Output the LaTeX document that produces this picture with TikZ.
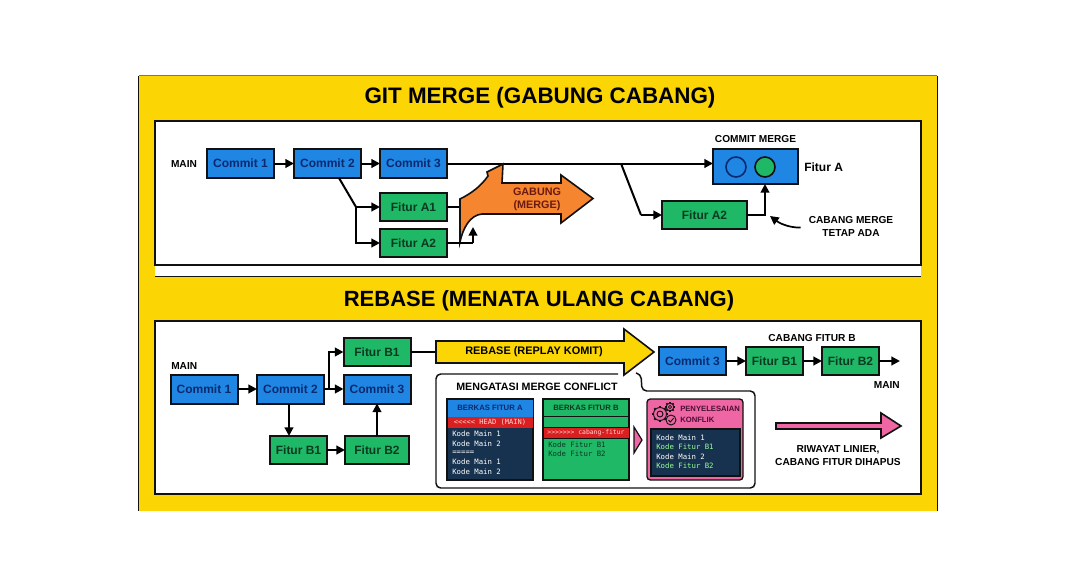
\documentclass[tikz,border=0pt]{standalone}
\usepackage{fontspec}
\setmainfont{Liberation Sans}
\newfontfamily\codefont{DejaVu Sans Mono}
\usetikzlibrary{arrows.meta,calc}
\definecolor{panelyellow}{HTML}{FBD504}
\definecolor{bblue}{HTML}{1F86E3}
\definecolor{bgreen}{HTML}{1FB866}
\definecolor{borange}{HTML}{F5852E}
\definecolor{bpink}{HTML}{EE66A3}
\definecolor{bnavy}{HTML}{17324F}
\definecolor{bred}{HTML}{D91F1F}
\definecolor{inkblue}{HTML}{0A2A70}
\definecolor{inkgreen}{HTML}{0A3A20}
\definecolor{inkline}{HTML}{111111}
\definecolor{inkbrown}{HTML}{6B1A10}
\definecolor{inkplum}{HTML}{4A0F35}
\newcommand{\fs}[1]{\fontsize{#1}{#1}\selectfont}
\tikzset{
  x=0.75pt,y=-0.75pt,
  wh/.style 2 args={minimum width=#1*0.75pt,minimum height=#2*0.75pt,inner sep=0pt,outer sep=0pt},
  commit/.style={draw=inkline,line width=1.5pt,fill=bblue,text=inkblue,font=\bfseries\fs{9}},
  fitur/.style={draw=inkline,line width=1.5pt,fill=bgreen,text=inkgreen,font=\bfseries\fs{9}},
  conn/.style={draw=black,line width=1.5pt,-{Triangle[length=6.5pt,width=6.5pt]}},
  plain/.style={draw=black,line width=1.5pt},
  lbl/.style={inner sep=0pt,font=\bfseries\fs{7.6},text=black,align=center},
  code/.style={inner sep=0pt,anchor=west,font=\codefont\fs{5.5}},
  hdr/.style={inner sep=0pt,font=\bfseries\fs{5.8}},
  fat/.style={draw=inkline,line width=1.2pt,line join=miter},
  rim/.style={draw=inkline,line width=0.85pt},
}
\begin{document}
\begin{tikzpicture}
\useasboundingbox (0,0) rectangle (1076,586);
\fill[white] (0,0) rectangle (1076,586);
% yellow board
\fill[panelyellow] (139,76) rectangle (937,511);
\draw[rim] (138.7,511) -- (138.7,76) (937.3,76) -- (937.3,511);
\draw[draw=inkline!45!panelyellow,line width=0.5pt] (138.7,75.7) -- (937.3,75.7);
\node[inner sep=0pt,font=\bfseries\fs{16.8}] (t1) at (540,98) {GIT MERGE (GABUNG CABANG)};
\node[inner sep=0pt,font=\bfseries\fs{16.5}] (t2) at (539,301) {REBASE (MENATA ULANG CABANG)};
\fill[white] (155,266) rectangle (921,276);
\draw[rim] (155,276.5) -- (921,276.5);
\node[rim,fill=white,wh={766}{144}] (p1) at (538,193) {};
\node[rim,fill=white,wh={766}{173}] (p2) at (538,407.5) {};

% ---- merge panel
\node[lbl] (mainA) at (184,164) {MAIN};
\node[commit,wh={67}{29}] (c1) at (240.5,163.5) {Commit 1};
\node[commit,wh={67}{29}] (c2) at (327.5,163.5) {Commit 2};
\node[commit,wh={67}{29}] (c3) at (413.5,163.5) {Commit 3};
\node[fitur,wh={67}{28}] (a1) at (413.5,207) {Fitur A1};
\node[fitur,wh={67}{28}] (a2) at (413.5,243) {Fitur A2};
\draw[conn] (c1) -- (c2);
\draw[conn] (c2) -- (c3);
\coordinate (b0) at (339,178);
\coordinate (b1) at (356,207);
\draw[plain,line join=round] (b0) -- (b1);
\draw[conn] (b1) -- (a1);
\draw[conn] (b1) |- (a2);
% main line behind the orange arrow
\draw[conn] (c3) -- (713,163.5);
% orange arrow
\coordinate (mg) at (460,207);
\coordinate (mh) at (473,243);
\coordinate (mi) at (473,227);
\draw[plain] (a1) -- (mg);
\draw[fat,fill=borange] (460,242) -- (460,199) .. controls (472,193) and (481,186) .. (488,176)
  -- (487,172) -- (503,164) -- (502,183) -- (561,183) -- (561,175) -- (593,198.5) -- (561,223) -- (561,214)
  -- (482,214) .. controls (470,215) and (463,228) .. cycle;
\draw[plain] (a2) -| (mh);
\draw[conn] (mh) -- (mi);
\node[lbl,text=inkbrown,font=\bfseries\fs{8.1}] (gab) at (537,199.5) {GABUNG\\[1.6pt](MERGE)};
% merge result
\node[draw=inkline,line width=1.5pt,fill=bblue,wh={85}{35}] (cm) at (755.5,166.5) {};
\node[draw=inkblue,line width=1.2pt,fill=bblue,circle,minimum size=15pt,inner sep=0pt] (o1) at (736,167) {};
\node[draw=inkline,line width=1.2pt,fill=bgreen,circle,minimum size=15pt,inner sep=0pt] (o2) at (765,167) {};
\node[lbl] (cmt) at (755.5,139) {COMMIT MERGE};
\node[lbl,anchor=west,font=\bfseries\fs{9}] (fa) at (804,167) {Fitur A};
\node[fitur,wh={85}{28}] (a3) at (704.5,215) {Fitur A2};
\coordinate (m0) at (621,163.5);
\coordinate (m1) at (641,215);
\draw[plain,line join=round] (m0) -- (m1);
\draw[conn] (m1) -- (a3);
\draw[conn] (a3.east) -| (o2 |- cm.south);
\node[lbl] (cb) at (851,226.5) {CABANG MERGE\\[2pt]TETAP ADA};
\coordinate (cbe) at (770,216);
\draw[conn,line width=1.3pt] (cb.west) ++(-8,1) .. controls (793,228) and (782,225) .. (cbe);

% ---- rebase panel
\node[lbl,anchor=west] (mainB) at (171,366) {MAIN};
\node[commit,wh={67}{29}] (d1) at (204,389) {Commit 1};
\node[commit,wh={67}{29}] (d2) at (290.5,389) {Commit 2};
\node[commit,wh={67}{29}] (d3) at (377,389) {Commit 3};
\node[fitur,wh={67}{28}] (e1) at (377,352) {Fitur B1};
\node[fitur,wh={57}{28}] (e2) at (298.5,450) {Fitur B1};
\node[fitur,wh={64}{28}] (e3) at (377,450) {Fitur B2};
\draw[conn] (d1) -- (d2);
\draw[conn] (d2) -- (d3);
\coordinate (j0) at (329,389);
\draw[conn] (j0) |- (e1);
\draw[conn] (d2.south -| 289,0) -- (e2.north -| 289,0);
\draw[conn] (e2) -- (e3);
\draw[conn] (e3) -- (d3);

% conflict box
\fill[white] (436,374) -- (640,374) -- (642,391) -- (755,391) -- (755,488) -- (436,488) -- cycle;
\draw[draw=inkline,line width=1.1pt,rounded corners=3.5pt] (636,373) -- (641,374) -- (642,391) -- (755,391) -- (755,488) -- (436,488) -- (436,374) -- (618,374);
\node[lbl,font=\bfseries\fs{8}] (mc) at (537,387) {MENGATASI MERGE CONFLICT};
% file A
\node[draw=inkline,line width=1pt,fill=bnavy,wh={86}{81}] (fA) at (490,439.5) {};
\node[fill=bblue,wh={85}{17},text=inkblue,hdr] (fAh) at (490,408) {BERKAS FITUR A};
\node[fill=bred,wh={85}{11.5},text=white!85!red,font=\codefont\fs{5.3}] (fAr) at (490,422.5) {<<<<< HEAD (MAIN)};
\node[code,text=white] (a1t) at (452,434) {Kode Main 1};
\node[code,text=white] (a2t) at (452,444) {Kode Main 2};
\node[code,text=white] (a3t) at (452,453) {=====};
\node[code,text=white] (a4t) at (452,462) {Kode Main 1};
\node[code,text=white] (a5t) at (452,472) {Kode Main 2};
% file B
\node[draw=inkline,line width=1pt,fill=bgreen,wh={86}{81}] (fB) at (586,439.5) {};
\node[hdr,text=inkgreen] (fBh) at (586,408) {BERKAS FITUR B};
\draw[inkline,line width=.7pt] (fB.west |- 0,416.5) -- (fB.east |- 0,416.5);
\node[fill=bred,wh={85}{11},text=white!85!red,font=\codefont\fs{4.8}] (fBr) at (586,432.5) {>>>>>>> cabang-fitur};
\draw[inkline,line width=.7pt] (fB.west |- 0,427) -- (fB.east |- 0,427);
\draw[inkline,line width=.7pt] (fB.west |- 0,438) -- (fB.east |- 0,438);
\node[code,text=inkgreen] (b1t) at (548,445) {Kode Fitur B1};
\node[code,text=inkgreen] (b2t) at (548,454) {Kode Fitur B2};
% small pink triangle
\draw[fat,line width=.9pt,fill=bpink] (634,427) -- (642,440) -- (634,453) -- cycle;
% resolution
\node[draw=inkline,line width=1pt,fill=bpink,rounded corners=2.5pt,wh={96}{81}] (fR) at (695,439.5) {};
\begin{scope}[shift={(660,414)},draw=inkline]
  \foreach \a in {0,45,...,315} \draw[line width=1.5pt] (\a:6) -- (\a:8);
  \draw[fill=bpink,line width=.7pt] (0,0) circle (6.5);
  \draw[line width=.7pt] (0,0) circle (3);
\end{scope}
\begin{scope}[shift={(670,407)},draw=inkline]
  \foreach \a in {0,45,...,315} \draw[line width=1.1pt] (\a:3.5) -- (\a:5.2);
  \draw[fill=bpink,line width=.7pt] (0,0) circle (3.8);
  \draw[line width=.6pt] (0,0) circle (1.6);
\end{scope}
\begin{scope}[shift={(671,420)},draw=inkline]
  \draw[fill=bpink,line width=.7pt] (0,0) circle (5);
  \draw[line width=.7pt] (-2.5,0) -- (-.7,2) -- (2.6,-1.8);
\end{scope}
\node[hdr,anchor=west,text=inkplum,font=\bfseries\fs{5.75}] (ry1) at (680,409) {PENYELESAIAN};
\node[hdr,anchor=west,text=inkplum,font=\bfseries\fs{5.75}] (ry2) at (680,419.5) {KONFLIK};
\node[draw=inkline,line width=.9pt,fill=bnavy,wh={89}{47}] (fRc) at (695.5,452.5) {};
\node[code,text=white] (r1t) at (656,438) {Kode Main 1};
\node[code,text=green!40!white] (r2t) at (656,447) {Kode Fitur B1};
\node[code,text=white] (r3t) at (656,457) {Kode Main 2};
\node[code,text=green!40!white] (r4t) at (656,466) {Kode Fitur B2};

% yellow arrow
\coordinate (yw) at (436,352);
\draw[plain] (e1) -- (yw);
\draw[fat,fill=panelyellow] (436,341) -- (624,341) -- (624,329) -- (654,352) -- (624,375) -- (624,363) -- (436,363) -- cycle;
\node[lbl,font=\bfseries\fs{8.2}] (yt) at (534,352) {REBASE (REPLAY KOMIT)};

% linear history
\node[commit,wh={67}{28}] (g1) at (692.5,361) {Commit 3};
\node[fitur,wh={57}{28}] (g2) at (774.5,361) {Fitur B1};
\node[fitur,wh={57}{28}] (g3) at (850.5,361) {Fitur B2};
\coordinate (g4) at (900,361);
\draw[conn] (g1) -- (g2);
\draw[conn] (g2) -- (g3);
\draw[conn] (g3) -- (g4);
\node[lbl] (cf) at (812,338) {CABANG FITUR B};
\node[lbl,anchor=east] (mainC) at (900,385) {MAIN};
\draw[fat,fill=bpink] (776,423) -- (881,423) -- (881,413) -- (901,426) -- (881,438) -- (881,429) -- (776,429) -- cycle;
\node[lbl] (ri) at (838,455.5) {RIWAYAT LINIER,\\[2pt]CABANG FITUR DIHAPUS};
\end{tikzpicture}
\end{document}
